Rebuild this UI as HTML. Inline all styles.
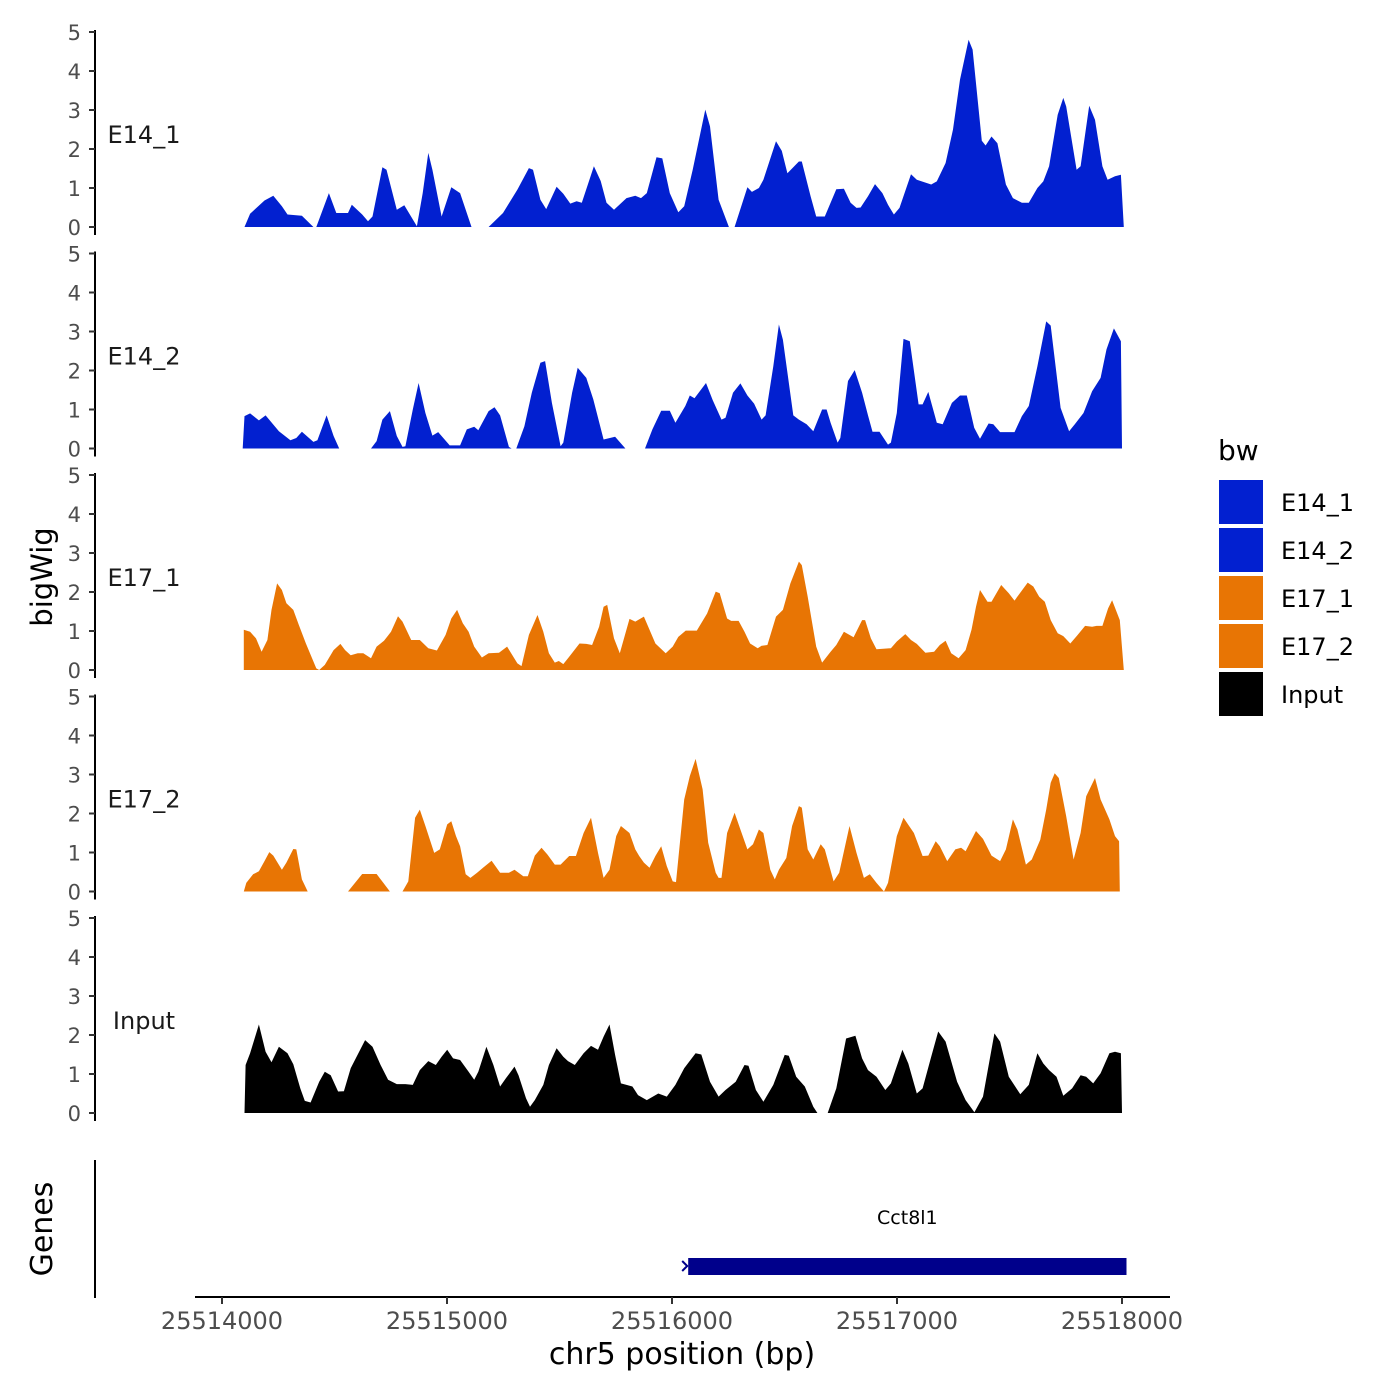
<!DOCTYPE html>
<html><head><meta charset="utf-8"><style>
html,body{margin:0;padding:0;background:#fff;}
svg{display:block;font-family:"DejaVu Sans","Liberation Sans",sans-serif;}
</style></head><body>
<svg id="chart" width="1400" height="1400" viewBox="0 0 1400 1400" xmlns="http://www.w3.org/2000/svg">
<rect width="1400" height="1400" fill="#fff"/>
<g id="tracks"></g>
<text x="0" y="0" transform="translate(52,577) rotate(-90)" text-anchor="middle" font-size="29" fill="#000">bigWig</text>
<text x="0" y="0" transform="translate(52,1229) rotate(-90)" text-anchor="middle" font-size="30" fill="#000">Genes</text>
<line x1="95" y1="1160" x2="95" y2="1298" stroke="#000" stroke-width="2"/>
<g id="genes"></g>
<g id="xaxis"></g>
<text x="682" y="1364" text-anchor="middle" font-size="30" fill="#000">chr5 position (bp)</text>
<g id="legend">
<text x="1218" y="460" font-size="28" fill="#000">bw</text>
</g>
</svg>
<script>
const xTicks = [25514000, 25515000, 25516000, 25517000, 25518000];
const trackNames = ["E14_1", "E14_2", "E17_1", "E17_2", "Input"];
const trackColors = ["#0220D0", "#0220D0", "#E87504", "#E87504", "#000000"];
const yTicks = [0, 1, 2, 3, 4, 5];
const geneName = "Cct8l1";
const geneStart = 25516072;
const geneEnd = 25518020;
// positions are bp offsets from 25514000; null = gap
const pos1 = [100,125,189,228,266,291,355,406,null,419,475,508,560,577,623,649,669,713,731,777,810,853,866,892,917,935,976,1019,1058,1109,null,1185,1249,1313,1364,1382,1415,1441,1487,1517,1548,1576,1599,1653,1683,1709,1742,1798,1837,1862,1888,1931,1957,1990,2028,2054,2092,2148,2169,2207,2253,null,2278,2335,2355,2386,2406,2462,2488,2513,2564,2577,2616,2641,2679,2730,2764,2794,2820,2838,2871,2902,2935,2960,2986,3011,3062,3088,3152,3177,3216,3249,3280,3318,3336,3377,3394,3420,3446,3484,3515,3555,3586,3624,3650,3676,3714,3739,3752,3798,3816,3854,3880,3913,3936,3969,3995,4008];
const val1 = [0,0.34,0.68,0.80,0.53,0.32,0.29,0,null,0,0.87,0.36,0.36,0.57,0.32,0.15,0.27,1.53,1.47,0.44,0.56,0.15,0.02,0.87,1.9,1.47,0.27,1.02,0.87,0,null,0,0.36,0.96,1.51,1.47,0.70,0.46,1.03,0.85,0.6,0.66,0.62,1.56,1.18,0.62,0.44,0.74,0.80,0.74,0.87,1.79,1.76,0.87,0.38,0.53,1.47,3.01,2.58,0.70,0,null,0,1.02,0.9,1.0,1.21,2.2,1.95,1.38,1.68,1.68,0.79,0.27,0.27,0.97,0.98,0.62,0.49,0.50,0.79,1.10,0.87,0.57,0.32,0.49,1.35,1.21,1.09,1.17,1.64,2.50,3.78,4.80,4.55,2.21,2.09,2.32,2.15,1.09,0.74,0.62,0.62,1.00,1.17,1.56,2.88,3.31,3.09,1.47,1.56,3.11,2.75,1.56,1.21,1.30,1.34,0];
const pos2 = [92,100,125,164,194,253,304,330,355,406,424,465,496,521,null,662,687,713,746,777,802,815,848,874,904,935,961,1012,1058,1088,1121,1139,1185,1211,1236,1275,1287,null,1308,1344,1377,1415,1436,1466,1505,1517,1556,1581,1619,1650,1696,1747,1793,null,1880,1913,1952,1990,2015,2059,2079,2100,2151,2181,2220,2238,2271,2304,2335,2365,2398,2416,2450,2475,2493,2539,2564,2598,2628,2667,2687,2705,2736,2748,2782,2812,2845,2871,2891,2922,2960,2973,2999,3029,3057,3096,3114,3139,3177,3203,3244,3280,3310,3343,3369,3407,3428,3458,3522,3555,3586,3624,3663,3683,3727,3765,3790,3829,3867,3905,3931,3964,3995,4000];
const val2 = [0,0.83,0.90,0.72,0.85,0.44,0.21,0.27,0.43,0.17,0.21,0.85,0.32,0,null,0,0.19,0.74,0.96,0.32,0.04,0.06,1.0,1.68,0.91,0.33,0.42,0.08,0.08,0.49,0.56,0.47,0.96,1.06,0.85,0.04,0,null,0,0.57,1.43,2.2,2.24,1.17,0.06,0.15,1.43,2.07,1.81,1.26,0.23,0.30,0,null,0,0.49,0.97,0.97,0.66,1.09,1.36,1.29,1.68,1.24,0.74,0.79,1.43,1.67,1.36,1.15,0.74,0.85,2.11,3.18,2.79,0.85,0.74,0.62,0.44,1.0,1.0,0.66,0.15,0.27,1.73,2.01,1.43,0.85,0.43,0.43,0.10,0.15,0.91,2.81,2.75,1.13,1.13,1.45,0.66,0.62,1.17,1.36,1.36,0.53,0.25,0.64,0.62,0.42,0.42,0.83,1.09,2.11,3.26,3.15,1.04,0.44,0.62,0.91,1.47,1.81,2.54,3.08,2.75,0];
const pos3 = [97,97,125,151,176,202,220,245,266,286,317,342,373,419,432,457,496,526,547,572,603,628,662,687,720,751,782,802,841,879,917,955,994,1019,1045,1070,1096,1121,1155,1185,1231,1267,1313,1331,1364,1402,1428,1453,1479,1497,1517,1543,1589,1619,1645,1676,1696,1712,1742,1768,1811,1837,1875,1926,1972,2003,2028,2061,2110,2156,2194,2212,2245,2263,2296,2322,2347,2381,2398,2424,2462,2493,2526,2564,2577,2603,2641,2667,2705,2730,2764,2807,2845,2858,2884,2909,2973,2999,3037,3062,3088,3126,3165,3190,3216,3241,3274,3305,3331,3351,3369,3402,3420,3463,3497,3522,3581,3606,3632,3657,3683,3714,3739,3770,3803,3836,3867,3887,3913,3938,3956,3990,4008];
const val3 = [0,1.03,0.98,0.81,0.47,0.77,1.54,2.22,2.05,1.71,1.54,1.15,0.68,0.04,0,0.13,0.51,0.67,0.51,0.38,0.43,0.43,0.30,0.60,0.75,0.98,1.38,1.24,0.77,0.77,0.56,0.50,0.90,1.32,1.54,1.20,0.98,0.60,0.32,0.43,0.44,0.60,0.17,0.10,0.90,1.41,0.98,0.43,0.19,0.23,0.15,0.34,0.68,0.67,0.64,1.11,1.62,1.67,0.81,0.43,1.31,1.24,1.37,0.68,0.43,0.60,0.85,1.01,1.01,1.45,2.01,1.97,1.32,1.26,1.26,0.98,0.68,0.56,0.62,0.64,1.37,1.54,2.22,2.78,2.69,1.88,0.60,0.19,0.47,0.64,0.98,0.84,1.28,1.28,0.81,0.53,0.56,0.73,0.92,0.77,0.67,0.44,0.47,0.64,0.75,0.43,0.30,0.51,1.03,1.62,2.05,1.75,1.75,2.18,1.97,1.78,2.24,2.14,1.88,1.75,1.28,0.94,0.87,0.68,0.90,1.13,1.11,1.13,1.13,1.58,1.79,1.28,0];
const pos4 = [97,108,138,164,189,210,228,266,286,317,330,355,381,null,560,623,687,746,null,802,828,858,879,904,943,968,1001,1019,1040,1058,1083,1104,1134,1160,1198,1236,1275,1300,1339,1359,1390,1420,1446,1479,1505,1543,1573,1607,1640,1671,1696,1722,1752,1773,1811,1837,1854,1875,1900,1926,1952,1977,2003,2018,2054,2079,2105,2136,2161,2194,2207,2220,2245,2278,2304,2335,2360,2386,2406,2437,2457,2475,2508,2534,2564,2577,2603,2628,2661,2679,2718,2743,2789,2820,2853,2879,2909,2942,2960,2999,3029,3075,3114,3139,3172,3190,3223,3259,3285,3305,3351,3382,3420,3458,3484,3515,3535,3573,3599,3637,3663,3683,3701,3719,3752,3785,3816,3841,3880,3905,3944,3969,3987,3990];
const val4 = [0,0.22,0.44,0.52,0.78,1.01,0.92,0.56,0.74,1.09,1.08,0.31,0,null,0,0.45,0.45,0,null,0,0.26,1.89,2.10,1.68,0.99,1.08,1.72,1.80,1.42,1.16,0.44,0.35,0.48,0.61,0.79,0.48,0.48,0.56,0.39,0.39,0.92,1.12,0.95,0.69,0.69,0.91,0.91,1.50,1.89,0.99,0.35,0.56,1.42,1.68,1.50,1.08,0.91,0.74,0.61,0.91,1.16,0.65,0.26,0.24,2.36,2.96,3.40,2.62,1.25,0.48,0.35,0.35,1.50,2.02,1.59,1.08,1.21,1.59,1.50,0.56,0.31,0.56,0.86,1.68,2.19,2.15,1.08,0.82,1.21,1.08,0.26,0.48,1.68,0.99,0.35,0.44,0.22,0,0.22,1.42,1.89,1.50,0.91,0.92,1.29,1.16,0.78,1.08,1.12,1.03,1.55,1.35,0.92,0.78,1.08,1.85,1.59,0.69,0.82,1.33,2.10,2.79,3.03,2.91,1.93,0.82,1.50,2.44,2.91,2.36,1.85,1.42,1.29,0];
const pos5 = [100,105,125,164,194,220,253,291,317,348,368,394,432,457,483,516,542,572,636,669,705,738,777,815,848,879,917,950,976,1001,1027,1058,1096,1121,1139,1175,1206,1236,1262,1300,1318,1351,1369,1390,1428,1453,1487,1517,1538,1568,1607,1640,1671,1696,1722,1747,1773,1798,1824,1849,1888,1939,1977,2015,2054,2105,2130,2169,2207,2238,2283,2322,2340,2373,2406,2450,2501,2519,2552,2590,2628,2646,null,2692,2730,2774,2815,2845,2871,2909,2948,2973,3024,3050,3088,3114,3152,3183,3216,3267,3305,3344,3382,3433,3458,3497,3548,3586,3624,3650,3676,3709,3739,3778,3816,3841,3872,3905,3944,3969,3995,4000];
const val5 = [0,1.23,1.53,2.27,1.57,1.30,1.70,1.53,1.25,0.63,0.31,0.27,0.80,1.06,0.97,0.55,0.56,1.15,1.87,1.70,1.23,0.85,0.74,0.74,0.72,1.10,1.33,1.23,1.44,1.62,1.40,1.36,1.06,0.85,1.06,1.70,1.23,0.68,0.89,1.19,0.97,0.38,0.16,0.33,0.72,1.23,1.66,1.44,1.33,1.23,1.53,1.72,1.62,1.96,2.27,1.49,0.76,0.72,0.68,0.46,0.33,0.50,0.42,0.72,1.15,1.53,1.50,0.80,0.42,0.59,0.80,1.23,1.21,0.59,0.29,0.72,1.49,1.47,0.93,0.68,0.16,0,null,0,0.63,1.91,1.98,1.40,1.10,0.93,0.59,0.76,1.62,1.27,0.50,0.63,1.44,2.09,1.83,0.80,0.33,0.02,0.42,2.04,1.83,0.93,0.48,0.72,1.53,1.27,1.10,0.93,0.44,0.63,0.97,0.93,0.76,1.02,1.53,1.57,1.53,0];
const trackPos = [pos1, pos2, pos3, pos4, pos5];
const trackVals = [val1, val2, val3, val4, val5];

const NS = "http://www.w3.org/2000/svg";
const X0 = 222, XSCALE = 900 / 4000;
function xScale(bp) { return X0 + (bp - 25514000) * XSCALE; }
function trackBase(i) { return 227 + i * 221.5; }
function yScale(i, v) { return trackBase(i) - v * 39; }
function mk(tag, attrs, parent) {
  const e = document.createElementNS(NS, tag);
  for (const k in attrs) e.setAttribute(k, attrs[k]);
  parent.appendChild(e);
  return e;
}
const tracksG = document.getElementById("tracks");
for (let i = 0; i < trackNames.length; i++) {
  const g = mk("g", {}, tracksG);
  
  
  const base = trackBase(i);
  const ax = mk("line", {x1: 95, y1: yScale(i, 5) - 2, x2: 95, y2: base + 8, stroke: "#000", "stroke-width": 2}, g);
  
  
  for (const t of yTicks) {
    const tk = mk("line", {x1: 89, y1: yScale(i, t), x2: 95, y2: yScale(i, t), stroke: "#333", "stroke-width": 2}, g);
    
    
    const tl = mk("text", {x: 81, y: yScale(i, t) + 8, "text-anchor": "end", "font-size": 21, fill: "#4d4d4d"}, g);
    tl.textContent = t;
    
    
  }
  const lbl = mk("text", {x: 144, y: base - 84, "text-anchor": "middle", "font-size": 24, fill: "#1a1a1a"}, g);
  lbl.textContent = trackNames[i];
  
  
  const P = trackPos[i], V = trackVals[i];
  let segs = [], cur = [];
  for (let k = 0; k < P.length; k++) {
    if (P[k] === null || V[k] === null) { if (cur.length) segs.push(cur); cur = []; continue; }
    cur.push([P[k] + 25514000, V[k]]);
  }
  if (cur.length) segs.push(cur);
  for (const s of segs) {
    let d = "M" + xScale(s[0][0]).toFixed(1) + "," + base;
    for (const p of s) d += "L" + xScale(p[0]).toFixed(1) + "," + yScale(i, p[1]).toFixed(1);
    d += "L" + xScale(s[s.length - 1][0]).toFixed(1) + "," + base + "Z";
    const a = mk("path", {d: d, fill: trackColors[i]}, g);
    
    
  }
}
const gg = document.getElementById("genes");
const gr = mk("rect", {x: xScale(geneStart), y: 1258, width: xScale(geneEnd) - xScale(geneStart), height: 17, fill: "#00008B"}, gg);


const gt = mk("text", {x: (xScale(geneStart) + xScale(geneEnd)) / 2, y: 1224, "text-anchor": "middle", "font-size": 19, fill: "#000"}, gg);
gt.textContent = geneName;


const ga = mk("path", {d: "M" + (xScale(geneStart) - 6) + ",1261 l5,5 l-5,5", fill: "none", stroke: "#00008B", "stroke-width": 2}, gg);


const xg = document.getElementById("xaxis");
const xl = mk("line", {x1: 195, y1: 1297, x2: 1170, y2: 1297, stroke: "#000", "stroke-width": 2}, xg);


for (const t of xTicks) {
  const tk = mk("line", {x1: xScale(t), y1: 1297, x2: xScale(t), y2: 1304, stroke: "#333", "stroke-width": 2}, xg);
  
  
  const tl = mk("text", {x: xScale(t), y: 1329, "text-anchor": "middle", "font-size": 24, fill: "#4d4d4d"}, xg);
  tl.textContent = t;
  
  
}
const lg = document.getElementById("legend");
for (let i = 0; i < trackNames.length; i++) {
  const y = 480 + i * 48;
  const r = mk("rect", {x: 1219, y: y, width: 44, height: 44, fill: trackColors[i]}, lg);
  
  
  const t = mk("text", {x: 1281, y: y + 31, "font-size": 24, fill: "#000"}, lg);
  t.textContent = trackNames[i];
  
  
}
</script>
</body></html>
